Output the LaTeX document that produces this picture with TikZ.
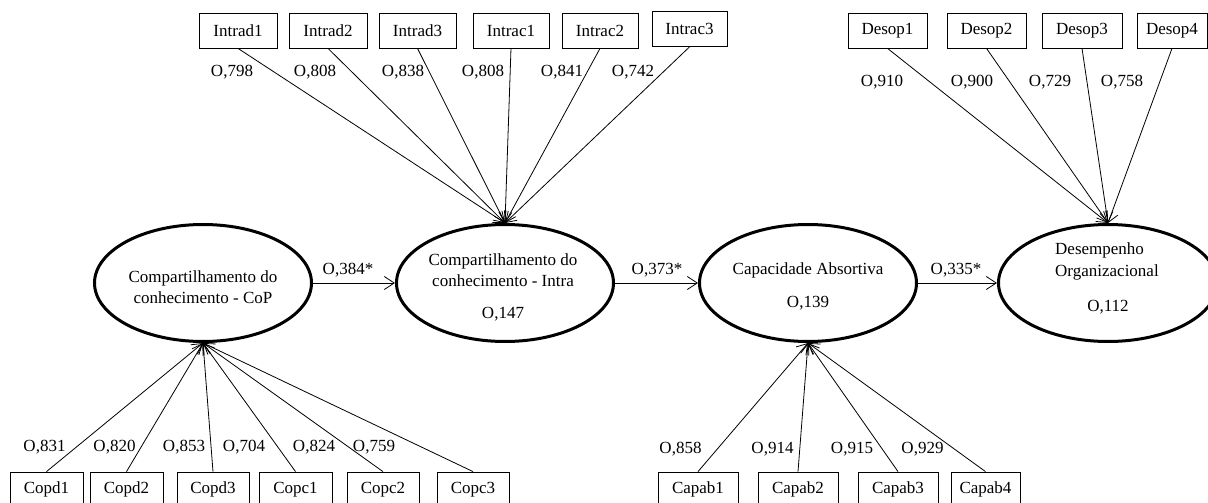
\documentclass[tikz,border=0pt]{standalone}
\usepackage{fontspec}
\setmainfont{Liberation Serif}
\usetikzlibrary{arrows.meta,shapes.geometric}
\begin{document}
\begin{tikzpicture}[x=1pt,y=-1pt,
  every node/.style={font=\fontsize{17}{21}\selectfont, inner sep=0pt},
  obs/.style={draw, line width=0.8pt, minimum width=#1, minimum height=35},
  latent/.style={draw, ellipse, line width=3pt, minimum width=217, minimum height=117},
  arr/.style={line width=0.8pt, -{Straight Barb[length=10pt,width=13pt]}},
  lbl/.style={}]
\useasboundingbox (0,0) rectangle (1208,503);
\clip (0,0) rectangle (1208,503);

% latent variables
\node[latent] (cop) at (203,283) {};
\node[latent] (intra) at (505,283) {};
\node[latent] (capab) at (808,283) {};
\node[latent, minimum width=219] (desemp) at (1108,283) {};

\node[align=center] (copt) at (203,287) {Compartilhamento do\\conhecimento - CoP};
\node[align=center] (intrat) at (503,270) {Compartilhamento do\\conhecimento - Intra};
\node (intrar) at (503,314) {O,147};
\node (capabt) at (808,270) {Capacidade Absortiva};
\node (capabr) at (808,303) {O,139};
\node[align=left, anchor=west] (desempt) at (1055,261) {Desempenho\\[1pt]Organizacional};
\node (desempr) at (1108,307) {O,112};

% top indicators: Intra
\node[obs=78] (i1) at (238,30.5) {Intrad1};
\node[obs=78] (i2) at (328,30.5) {Intrad2};
\node[obs=77] (i3) at (417.5,30.5) {Intrad3};
\node[obs=76] (i4) at (511,30.5) {Intrac1};
\node[obs=76] (i5) at (600,30.5) {Intrac2};
\node[obs=75] (i6) at (689.5,29) {Intrac3};

% top indicators: Desempenho
\node[obs=79] (d1) at (887.5,30.5) {Desop1};
\node[obs=79] (d2) at (986.5,30.5) {Desop2};
\node[obs=80] (d3) at (1082,30.5) {Desop3};
\node[obs=70] (d4) at (1172,30.5) {Desop4};

% bottom indicators: CoP
\node[obs=73] (c1) at (46.5,489.5) {Copd1};
\node[obs=73] (c2) at (126.5,489.5) {Copd2};
\node[obs=72] (c3) at (213,489.5) {Copd3};
\node[obs=73] (c4) at (295.5,489.5) {Copc1};
\node[obs=72] (c5) at (383,489.5) {Copc2};
\node[obs=72] (c6) at (473,489.5) {Copc3};

% bottom indicators: Capacidade
\node[obs=80] (a1) at (698,489.5) {Capab1};
\node[obs=80] (a2) at (798,489.5) {Capab2};
\node[obs=80] (a3) at (898,489.5) {Capab3};
\node[obs=69] (a4) at (985.5,489.5) {Capab4};

% loadings arrows
\foreach \n in {i1,i2,i3,i4,i5,i6} \draw[arr] (\n.south) -- (intra.north);
\foreach \n in {d1,d2,d3,d4} \draw[arr] (\n.south) -- (desemp.north);
\foreach \n in {c1,c2,c3,c4,c5,c6} \draw[arr] (\n.north) -- (cop.south);
\foreach \n in {a1,a2,a3,a4} \draw[arr] (\n.north) -- (capab.south);

% structural paths
\draw[arr] (cop.east) -- (intra.west);
\draw[arr] (intra.east) -- (capab.west);
\draw[arr] (capab.east) -- (desemp.west);
\node (p1) at (348,270) {O,384*};
\node (p2) at (657,270) {O,373*};
\node (p3) at (956,270) {O,335*};

% loading labels
\node (li1) at (232,72) {O,798};
\node (li2) at (315,72) {O,808};
\node (li3) at (403,72) {O,838};
\node (li4) at (483,72) {O,808};
\node (li5) at (562,72) {O,841};
\node (li6) at (633,72) {O,742};

\node (ld1) at (882,82) {O,910};
\node (ld2) at (972,82) {O,900};
\node (ld3) at (1050,82) {O,729};
\node (ld4) at (1122,82) {O,758};

\node (lc1) at (44.5,447) {O,831};
\node (lc2) at (114.5,447) {O,820};
\node (lc3) at (184,447) {O,853};
\node (lc4) at (244,447) {O,704};
\node (lc5) at (314,447) {O,824};
\node (lc6) at (374,447) {O,759};

\node (la1) at (680.5,449) {O,858};
\node (la2) at (772.5,449) {O,914};
\node (la3) at (852,449) {O,915};
\node (la4) at (922.5,449) {O,929};
\end{tikzpicture}
\end{document}
